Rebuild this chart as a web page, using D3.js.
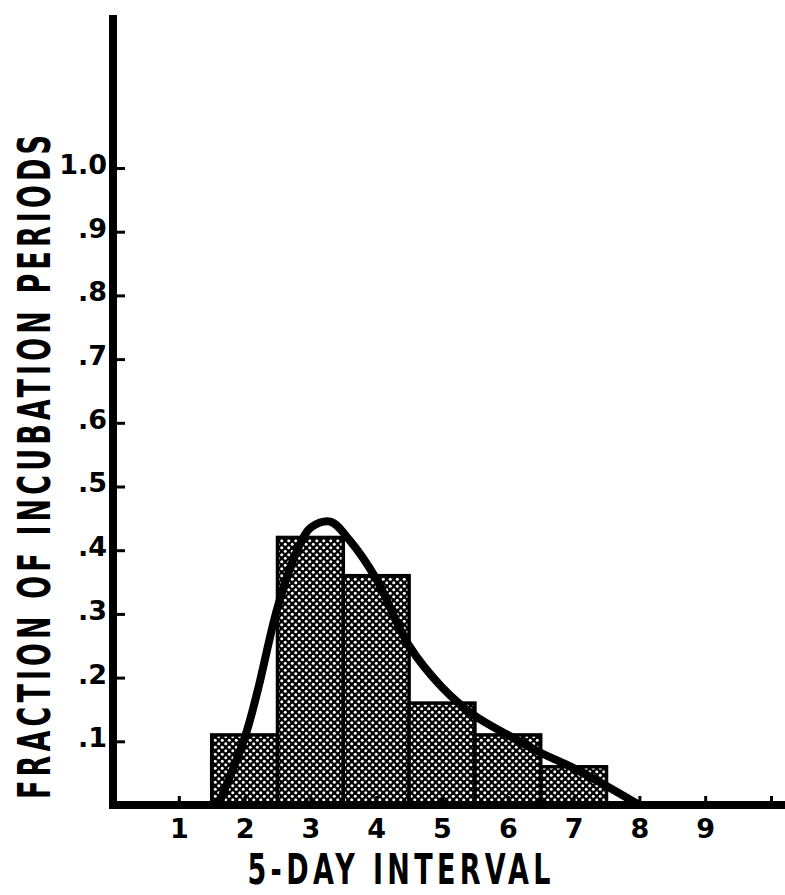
<!DOCTYPE html>
<html>
<head>
<meta charset="utf-8">
<script src="https://cdn.jsdelivr.net/npm/d3@7"></script>
<style>
  body { margin: 0; background: #fff; }
  svg { display: block; background: #fff; }
  .tick text { font-family: "DejaVu Sans", sans-serif; font-weight: bold; font-size: 27px; fill: #000; }
  .title { font-family: "Liberation Sans Narrow", "DejaVu Sans Condensed", sans-serif; font-weight: bold; fill: #000; }
</style>
</head>
<body>
<svg id="graf" width="785" height="895"></svg>
<script>
// histogram: 5-day interval -> fraction of incubation periods
const categories = [2, 3, 4, 5, 6, 7];
const fractions = [0.11, 0.42, 0.36, 0.16, 0.11, 0.06];

// smooth fitted curve
const curveX = [1.6, 2.0, 2.2, 2.5, 2.8, 3.0, 3.3, 3.6, 4.0, 4.5, 5.0, 5.5, 6.0, 6.5, 7.0, 7.5, 8.0];
const curveY = [0, 0.105, 0.18, 0.31, 0.40, 0.435, 0.445, 0.415, 0.355, 0.25, 0.185, 0.14, 0.11, 0.082, 0.058, 0.03, 0];

const xTicks = [1, 2, 3, 4, 5, 6, 7, 8, 9, 10];
const xTickLabels = ["1", "2", "3", "4", "5", "6", "7", "8", "9", ""];
const yTicks = [0.1, 0.2, 0.3, 0.4, 0.5, 0.6, 0.7, 0.8, 0.9, 1.0];
const yTickLabels = [".1", ".2", ".3", ".4", ".5", ".6", ".7", ".8", ".9", "1.0"];

const svg = d3.select("#graf");

const xScale = d3.scaleLinear()
                .domain([0, 10])
                .range([113, 771]);
const yScale = d3.scaleLinear()
                .domain([0, 1])
                .range([805, 168]);

// dotted screen fill
const defs = svg.append("defs");
const pat = defs.append("pattern")
    .attr("id", "screen")
    .attr("patternUnits", "userSpaceOnUse")
    .attr("width", 7)
    .attr("height", 7);
pat.append("rect").attr("width", 7).attr("height", 7).attr("fill", "#000");
pat.append("circle").attr("cx", 1.75).attr("cy", 1.75).attr("r", 1.5).attr("fill", "#fff");
pat.append("circle").attr("cx", 5.25).attr("cy", 5.25).attr("r", 1.5).attr("fill", "#fff");

svg.selectAll("rect.bar")
    .data(categories)
    .enter()
    .append("rect")
    .attr("class", "bar")
    .attr("x", d => xScale(d - 0.5))
    .attr("y", (d, i) => yScale(fractions[i]))
    .attr("width", d => xScale(d + 0.5) - xScale(d - 0.5))
    .attr("height", (d, i) => yScale(0) - yScale(fractions[i]))
    .attr("fill", "url(#screen)")
    .attr("stroke", "#000")
    .attr("stroke-width", 3.5);

const line = d3.line()
    .x(d => xScale(d[0]))
    .y(d => yScale(d[1]))
    .curve(d3.curveCatmullRom);

svg.append("path")
    .datum(curveX.map((v, i) => [v, curveY[i]]))
    .attr("d", line)
    .attr("fill", "none")
    .attr("stroke", "#000")
    .attr("stroke-width", 8)
    .attr("stroke-linejoin", "round");

// axes
const xAxis = d3.axisBottom(xScale)
    .tickValues(xTicks)
    .tickFormat((d, i) => xTickLabels[i])
    .tickSize(-9)
    .tickPadding(14);
const gx = svg.append("g")
    .attr("transform", `translate(0, ${yScale(0)})`)
    .call(xAxis);
gx.select(".domain").remove();
gx.selectAll(".tick line").attr("stroke", "#000").attr("stroke-width", 3);

const yAxis = d3.axisLeft(yScale)
    .tickValues(yTicks)
    .tickFormat((d, i) => yTickLabels[i])
    .tickSize(-12)
    .tickPadding(6);
const gy = svg.append("g")
    .attr("transform", `translate(${xScale(0)}, 0)`)
    .call(yAxis);
gy.select(".domain").remove();
gy.selectAll(".tick line").attr("stroke", "#000").attr("stroke-width", 3);
gy.selectAll(".tick text").attr("dy", "0.2em");

// heavy axis lines
svg.append("line")
    .attr("x1", xScale(0)).attr("x2", xScale(0))
    .attr("y1", 15).attr("y2", yScale(0) + 4)
    .attr("stroke", "#000").attr("stroke-width", 8);
svg.append("line")
    .attr("x1", xScale(0) - 4).attr("x2", 785)
    .attr("y1", yScale(0)).attr("y2", yScale(0))
    .attr("stroke", "#000").attr("stroke-width", 8);

// titles: tall condensed lettering
svg.append("text")
    .attr("class", "title")
    .attr("transform", "translate(399, 884) scale(1, 1.45)")
    .attr("text-anchor", "middle")
    .attr("font-size", 30)
    .attr("textLength", 303)
    .attr("lengthAdjust", "spacing")
    .text("5-DAY INTERVAL");

svg.append("text")
    .attr("class", "title")
    .attr("transform", "translate(50, 467) rotate(-90) scale(1, 1.5)")
    .attr("text-anchor", "middle")
    .attr("font-size", 30)
    .attr("textLength", 664)
    .attr("lengthAdjust", "spacing")
    .text("FRACTION OF INCUBATION PERIODS");
</script>
</body>
</html>
